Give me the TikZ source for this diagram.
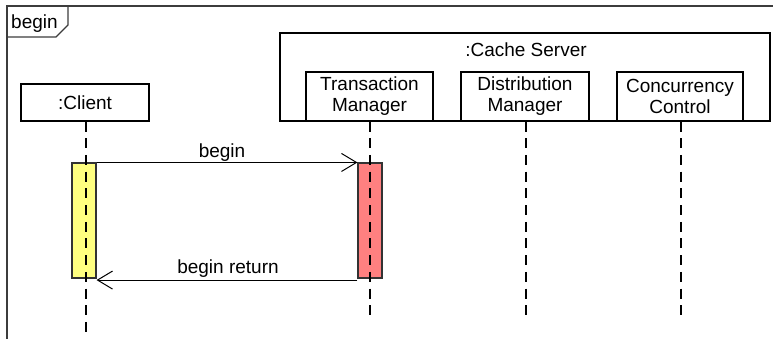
\documentclass[tikz,border=0pt]{standalone}
\usepackage{fontspec}
\setmainfont{Liberation Sans}
\usetikzlibrary{arrows.meta}
\definecolor{actyellow}{RGB}{255,255,128}
\definecolor{actred}{RGB}{255,128,128}
\definecolor{framegray}{RGB}{60,60,60}
\tikzset{
  objbox/.style={draw=black, line width=1.1bp, rectangle, inner sep=0pt, align=center,
    font=\fontsize{19bp}{21bp}\selectfont},
  actbox/.style={draw=black!80, line width=1.1bp, rectangle, inner sep=0pt,
    minimum width=24bp, minimum height=115bp},
  lifeline/.style={draw=black, line width=1.3bp, dash pattern=on 10bp off 6.7bp},
  msg/.style={draw=black, line width=1bp, -{Straight Barb[length=15bp,width=18bp,line width=1bp]}},
  lbl/.style={font=\fontsize{19bp}{21bp}\selectfont, inner sep=0pt, anchor=base}
}
\begin{document}
\begin{tikzpicture}[x=1bp,y=-1bp]
\useasboundingbox (0,0) rectangle (773,338);
% frame
\draw[framegray, line width=1.4bp] (7,340) -- (7,6) -- (775,6);
\draw[framegray, line width=1.4bp] (7,37) -- (56,37) -- (68,25) -- (68,6);
\node[lbl, anchor=base west] (framelbl) at (11,28) {begin};
% container
\node[objbox, minimum width=490bp, minimum height=88bp] (cache) at (525,77) {};
\node[lbl] (cachelbl) at (526,56) {:Cache Server};
% objects
\node[objbox, minimum width=128bp, minimum height=37bp] (client) at (85,102.5) {:Client};
\node[objbox, minimum width=127bp, minimum height=49bp] (tm) at (369.5,96.5) {Transaction\\Manager};
\node[objbox, minimum width=128bp, minimum height=49bp] (dm) at (525,96.5) {Distribution\\Manager};
\node[objbox, minimum width=126bp, minimum height=49bp] (cc) at (680,96.5) {Concurrency\\Control};
% activations
\node[actbox, fill=actyellow] (ca) at (84,220.5) {};
\node[actbox, fill=actred] (ta) at (370,220.5) {};
% lifelines
\coordinate (clientend) at (86,332);
\coordinate (tmend) at (370,319);
\coordinate (dmend) at (526,319);
\coordinate (ccend) at (681,319);
\draw[lifeline] (client.south -| clientend) -- (clientend);
\draw[lifeline] (tm.south -| tmend) -- (tmend);
\draw[lifeline] (dm.south -| dmend) -- (dmend);
\draw[lifeline] (cc.south -| ccend) -- (ccend);
% messages
\draw[msg] (ca.north east) -- (ta.north west);
\node[lbl] (m1) at (222,157) {begin};
\draw[msg] ([yshift=-1.5bp]ta.south west) -- ([yshift=-1.5bp]ca.south east);
\node[lbl] (m2) at (228,273) {begin return};
\end{tikzpicture}
\end{document}
